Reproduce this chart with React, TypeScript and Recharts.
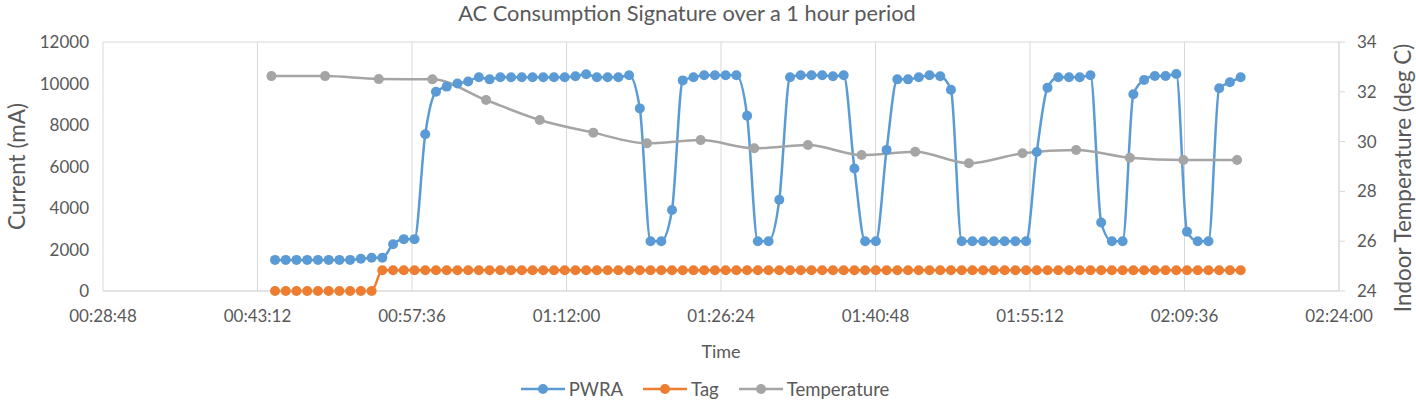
import { CartesianGrid, Label, Line, LineChart, XAxis, YAxis } from "recharts";

// current draw of the AC, sampled once a minute from 00:44:50
const pwraValues = [
  1500, 1500, 1500, 1500, 1500, 1500, 1500, 1500, 1550, 1600,
  1600, 2250, 2500, 2500, 7550, 9600, 9850, 10000, 10100, 10300,
  10200, 10300, 10300, 10300, 10300, 10300, 10300, 10300, 10350, 10450,
  10300, 10300, 10300, 10400, 8800, 2400, 2400, 3900, 10150, 10300,
  10400, 10400, 10400, 10400, 8450, 2400, 2400, 4400, 10300, 10400,
  10400, 10400, 10350, 10400, 5900, 2400, 2400, 6800, 10200, 10200,
  10300, 10400, 10350, 9700, 2400, 2400, 2400, 2400, 2400, 2400,
  2400, 6700, 9800, 10300, 10300, 10300, 10400, 3300, 2400, 2400,
  9480, 10170, 10360, 10360, 10460, 2860, 2400, 2400, 9770, 10060,
  10300
];

const tagValues = [
  0, 0, 0, 0, 0, 0, 0, 0, 0, 0,
  1000, 1000, 1000, 1000, 1000, 1000, 1000, 1000, 1000, 1000,
  1000, 1000, 1000, 1000, 1000, 1000, 1000, 1000, 1000, 1000,
  1000, 1000, 1000, 1000, 1000, 1000, 1000, 1000, 1000, 1000,
  1000, 1000, 1000, 1000, 1000, 1000, 1000, 1000, 1000, 1000,
  1000, 1000, 1000, 1000, 1000, 1000, 1000, 1000, 1000, 1000,
  1000, 1000, 1000, 1000, 1000, 1000, 1000, 1000, 1000, 1000,
  1000, 1000, 1000, 1000, 1000, 1000, 1000, 1000, 1000, 1000,
  1000, 1000, 1000, 1000, 1000, 1000, 1000, 1000, 1000, 1000,
  1000
];

// indoor temperature, every 5 minutes from 00:44:30
const tempValues = [
  32.63, 32.63, 32.51, 32.5, 31.67, 30.87, 30.36, 29.93, 30.06, 29.73,
  29.86, 29.46, 29.59, 29.13, 29.53, 29.66, 29.35, 29.26, 29.26
];

const timeTicks = [
  "00:28:48", "00:43:12", "00:57:36", "01:12:00", "01:26:24",
  "01:40:48", "01:55:12", "02:09:36", "02:24:00"
];
const currentTicks = [0, 2000, 4000, 6000, 8000, 10000, 12000];
const tempTicks = [24, 26, 28, 30, 32, 34];

const C_PWRA = "#5b9bd5";
const C_TAG = "#ed7d31";
const C_TEMP = "#a5a5a5";
const GRID = "#d9d9d9";
const TEXT = "#595959";
const FONT = "Lato, 'Open Sans', sans-serif";

const toSec = (s: string) => {
  const [h, m, sec] = s.split(":").map(Number);
  return h * 3600 + m * 60 + sec;
};
const fmt = (v: number) => {
  const h = Math.floor(v / 3600);
  const m = Math.floor((v % 3600) / 60);
  const s = Math.round(v % 60);
  return [h, m, s].map((n) => String(n).padStart(2, "0")).join(":");
};

const sampleStart = toSec("00:44:50");
const tempStart = toSec("00:44:30");

const pwraData = pwraValues.map((v, i) => ({ t: sampleStart + i * 60, v }));
const tagData = tagValues.map((v, i) => ({ t: sampleStart + i * 60, v }));
const tempData = tempValues.map((v, i) => ({ t: tempStart + i * 300, v }));
const xTicks = timeTicks.map(toSec);

function LegendItem({ color, label }: { color: string; label: string }) {
  return (
    <div style={{ display: "flex", alignItems: "center", marginRight: 20 }}>
      <svg width={44} height={12}>
        <line x1={0} y1={6} x2={44} y2={6} stroke={color} strokeWidth={2.5} />
        <circle cx={22} cy={6} r={5} fill={color} />
      </svg>
      <span style={{ marginLeft: 4 }}>{label}</span>
    </div>
  );
}

// right axis title sits a little below the plot centre, as in the source
const RightTitle = () => (
  <text
    x={1402}
    y={178}
    transform="rotate(-90 1402 178)"
    textAnchor="middle"
    dominantBaseline="central"
    fill={TEXT}
    fontSize={22.5}
    fontFamily={FONT}
  >
    Indoor Temperature (deg C)
  </text>
);

export default function App() {
  return (
    <div style={{ position: "absolute", left: 0, top: 0, width: 1416, height: 402, background: "#fff", fontFamily: FONT }}>
      <div style={{ position: "absolute", top: 0, left: 0, width: 1374, textAlign: "center", fontSize: 21.8, color: TEXT, lineHeight: "26px" }}>
        AC Consumption Signature over a 1 hour period
      </div>
      <LineChart width={1416} height={402} margin={{ top: 42, right: 0, left: 0, bottom: 0 }}>
        <CartesianGrid stroke={GRID} strokeWidth={1} />
        <XAxis
          dataKey="t"
          type="number"
          domain={[xTicks[0], xTicks[xTicks.length - 1]]}
          ticks={xTicks}
          tickFormatter={fmt}
          height={111}
          axisLine={{ stroke: GRID }}
          tickLine={false}
          tickSize={0}
          tickMargin={19}
          tick={{ fill: TEXT, fontSize: 17, fontFamily: FONT }}
          interval={0}
        >
          <Label value="Time" position="insideTop" offset={54} style={{ fill: TEXT, fontSize: 18, fontFamily: FONT }} />
        </XAxis>
        <YAxis
          yAxisId="left"
          domain={[0, 12000]}
          ticks={currentTicks}
          width={103}
          axisLine={false}
          tickLine={false}
          tickSize={0}
          tickMargin={14}
          tick={{ fill: TEXT, fontSize: 17, fontFamily: FONT }}
          interval={0}
        >
          <Label
            value="Current (mA)"
            angle={-90}
            position="insideLeft"
            offset={17}
            style={{ textAnchor: "middle", fill: TEXT, fontSize: 22.5, fontFamily: FONT }}
          />
        </YAxis>
        <YAxis
          yAxisId="right"
          orientation="right"
          domain={[24, 34]}
          ticks={tempTicks}
          width={77}
          axisLine={{ stroke: GRID }}
          tickLine={{ stroke: GRID }}
          tickSize={6}
          tickMargin={12}
          tick={{ fill: TEXT, fontSize: 17, fontFamily: FONT }}
          interval={0}
        >
          <Label content={RightTitle} />
        </YAxis>
        <Line
          yAxisId="left"
          data={pwraData}
          dataKey="v"
          name="PWRA"
          type="monotone"
          stroke={C_PWRA}
          strokeWidth={2.5}
          dot={{ r: 5, fill: C_PWRA, stroke: C_PWRA, strokeWidth: 0 }}
          isAnimationActive={false}
        />
        <Line
          yAxisId="left"
          data={tagData}
          dataKey="v"
          name="Tag"
          type="monotone"
          stroke={C_TAG}
          strokeWidth={2.5}
          dot={{ r: 5, fill: C_TAG, stroke: C_TAG, strokeWidth: 0 }}
          isAnimationActive={false}
        />
        <Line
          yAxisId="right"
          data={tempData}
          dataKey="v"
          name="Temperature"
          type="monotone"
          stroke={C_TEMP}
          strokeWidth={2.5}
          dot={{ r: 5, fill: C_TEMP, stroke: C_TEMP, strokeWidth: 0 }}
          isAnimationActive={false}
        />
      </LineChart>
      <div
        style={{
          position: "absolute",
          top: 379,
          left: 0,
          width: 1430,
          display: "flex",
          justifyContent: "center",
          fontSize: 18.5,
          color: TEXT,
          lineHeight: "20px"
        }}
      >
        <LegendItem color={C_PWRA} label="PWRA" />
        <LegendItem color={C_TAG} label="Tag" />
        <LegendItem color={C_TEMP} label="Temperature" />
      </div>
    </div>
  );
}
